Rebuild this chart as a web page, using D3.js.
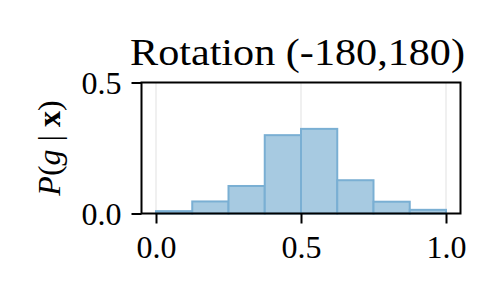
<!DOCTYPE html>
<html lang="en">
  <head>
    <meta charset="utf-8">
    <title>rotation histogram</title>
    <script src="https://d3js.org/d3.v7.min.js"></script>
    <style type="text/css">
      body { margin: 0; background: #fff; }
      text { font-family: "Liberation Serif", "DejaVu Serif", serif; fill: #000; }
      .grid line { stroke: #ebebeb; stroke-width: 1.5; }
      .bar { fill: #a7cae1; stroke: #7aafd3; stroke-width: 2; }
    </style>
  </head>
  <body>
    <svg width="500" height="300"></svg>
    <script type="text/javascript">
      // histogram of P(g|x), 8 bins on [0,1]
      var binEdges = [0, 0.125, 0.25, 0.375, 0.5, 0.625, 0.75, 0.875, 1];
      var probs = [0.009, 0.046, 0.105, 0.299, 0.323, 0.127, 0.045, 0.014];
      var xTicks = [0, 0.5, 1];
      var yTicks = [0, 0.5];
      var title = "Rotation (-180,180)";

      var svg = d3.select("svg");

      var x = d3.scaleLinear().domain([-0.05, 1.05]).range([141.5, 460.5]);
      var y = d3.scaleLinear().domain([0, 0.5]).range([213.5, 82.5]);

      // vertical grid lines
      svg.append("g")
        .attr("class", "grid")
        .selectAll("line")
        .data(xTicks)
        .enter().append("line")
          .attr("x1", function(d) { return x(d); })
          .attr("x2", function(d) { return x(d); })
          .attr("y1", y.range()[0])
          .attr("y2", y.range()[1]);

      var bins = probs.map(function(p, i) { return {x0: binEdges[i], x1: binEdges[i + 1], p: p}; });

      svg.selectAll(".bar")
        .data(bins)
        .enter().append("rect")
          .attr("class", "bar")
          .attr("x", function(d) { return x(d.x0); })
          .attr("width", function(d) { return x(d.x1) - x(d.x0); })
          .attr("y", function(d) { return y(d.p); })
          .attr("height", function(d) { return y(0) - y(d.p); });

      // axes
      var xAxis = svg.append("g")
        .attr("transform", "translate(0," + y.range()[0] + ")")
        .call(d3.axisBottom(x).tickValues(xTicks).tickFormat(d3.format(".1f")).tickSizeOuter(0).tickSize(10).tickPadding(12));

      var yAxis = svg.append("g")
        .attr("transform", "translate(" + x.range()[0] + ",0)")
        .call(d3.axisLeft(y).tickValues(yTicks).tickFormat(d3.format(".1f")).tickSizeOuter(0).tickSize(10).tickPadding(10));

      [xAxis, yAxis].forEach(function(a) {
        a.select(".domain").remove();
        a.selectAll(".tick line").attr("stroke", "#000").attr("stroke-width", 2);
        a.selectAll(".tick text").style("font-size", "32px").attr("fill", "#000");
      });
      yAxis.selectAll(".tick text").attr("dy", "0.34em");

      // frame
      svg.append("rect")
        .attr("x", x.range()[0])
        .attr("y", y.range()[1])
        .attr("width", x.range()[1] - x.range()[0])
        .attr("height", y.range()[0] - y.range()[1])
        .attr("fill", "none")
        .attr("stroke", "#000")
        .attr("stroke-width", 2);

      svg.append("text")
        .attr("x", 130)
        .attr("y", 65)
        .attr("textLength", 335)
        .attr("lengthAdjust", "spacingAndGlyphs")
        .style("font-size", "37px")
        .text(title);

      var ylab = svg.append("text")
        .attr("transform", "translate(60," + (y.range()[0] + y.range()[1]) / 2 + ") rotate(-90)")
        .attr("text-anchor", "middle")
        .style("font-size", "32px");
      ylab.append("tspan").style("font-style", "italic").text("P");
      ylab.append("tspan").text("(");
      ylab.append("tspan").style("font-style", "italic").text("g");
      ylab.append("tspan").text(" | ");
      ylab.append("tspan").style("font-weight", "bold").text("x");
      ylab.append("tspan").text(")");
    </script>
  </body>
</html>
